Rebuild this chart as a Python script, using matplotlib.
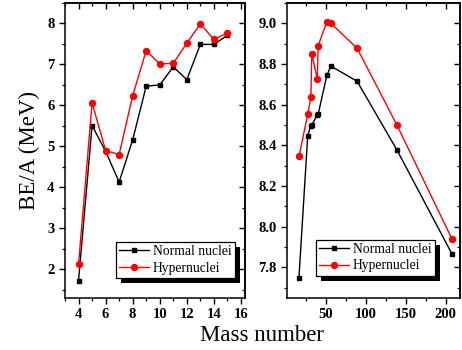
import matplotlib
matplotlib.use("Agg")
import matplotlib.pyplot as plt
from matplotlib.ticker import MultipleLocator, FormatStrFormatter
from matplotlib.patches import Rectangle

# light nuclei (left panel)
mass_light = [4, 5, 6, 7, 8, 9, 10, 11, 12, 13, 14, 15]
be_normal_light = [1.72, 5.51, 4.88, 4.13, 5.16, 6.47, 6.50, 6.94, 6.63, 7.49, 7.49, 7.71]
be_hyper_light = [2.13, 6.06, 4.90, 4.80, 6.24, 7.34, 7.01, 7.03, 7.52, 7.99, 7.61, 7.77]

# heavier nuclei (right panel)
mass_heavy = [16, 27, 31, 32, 39, 40, 51, 56, 89, 139, 208]
be_normal_heavy = [7.75, 8.448, 8.497, 8.50, 8.549, 8.552, 8.744, 8.79, 8.715, 8.377, 7.866]
be_hyper_heavy = [8.346, 8.553, 8.639, 8.851, 8.725, 8.89, 9.008, 9.0, 8.877, 8.499, 7.939]

plt.rcParams['font.family'] = ['Liberation Serif', 'DejaVu Serif']

fig = plt.figure(figsize=(4.62, 3.5), dpi=100)
ax1 = fig.add_axes([65 / 462, 52 / 350, 180 / 462, 295 / 350])
ax2 = fig.add_axes([287 / 462, 52 / 350, 173 / 462, 295 / 350])


def style(ax, xmaj, xmin, ymaj, ymin):
    ax.xaxis.set_major_locator(MultipleLocator(xmaj))
    ax.xaxis.set_minor_locator(MultipleLocator(xmin))
    ax.yaxis.set_major_locator(MultipleLocator(ymaj))
    ax.yaxis.set_minor_locator(MultipleLocator(ymin))
    ax.tick_params(which='major', direction='out', length=4, width=1, labelsize=10.5)
    ax.tick_params(which='minor', direction='out', length=2.2, width=0.9)
    for lab in ax.get_xticklabels() + ax.get_yticklabels():
        lab.set_fontweight('bold')
    for s in ax.spines.values():
        s.set_linewidth(1.1)
    # mirrored ticks pointing inward on top and right
    top = ax.secondary_xaxis('top')
    right = ax.secondary_yaxis('right')
    for sec, axis, maj, mnr in ((top, top.xaxis, xmaj, xmin), (right, right.yaxis, ymaj, ymin)):
        axis.set_major_locator(MultipleLocator(maj))
        axis.set_minor_locator(MultipleLocator(mnr))
        sec.tick_params(which='major', direction='in', length=4, width=1, labelsize=0)
        sec.tick_params(which='minor', direction='in', length=2.2, width=0.9)
        axis.set_ticklabels([])
        for s in sec.spines.values():
            s.set_linewidth(1.1)


def legend(ax, x, y):
    leg = ax.legend(loc='lower left', bbox_to_anchor=(x, y), borderaxespad=0,
                    fancybox=False, framealpha=1, edgecolor='black', fontsize=9.8,
                    handlelength=2.2, handletextpad=0.25, borderpad=0.25,
                    labelspacing=0.25)
    leg.get_frame().set_linewidth(0.9)
    return leg


ax1.plot(mass_light, be_normal_light, '-s', color='black', lw=1, ms=3.5, label='Normal nuclei')
ax1.plot(mass_light, be_hyper_light, '-o', color='red', lw=1, ms=4.3, label='Hypernuclei')
ax1.set_xlim(3, 16.3)
ax1.set_ylim(1.3, 8.5)
style(ax1, 2, 1, 1, 0.5)
ax1.set_ylabel('BE/A (MeV)', fontsize=16.5, labelpad=5)
leg1 = legend(ax1, 0.283, 0.068)

ax2.plot(mass_heavy, be_normal_heavy, '-s', color='black', lw=1, ms=3.5, label='Normal nuclei')
ax2.plot(mass_heavy, be_hyper_heavy, '-o', color='red', lw=1, ms=4.3, label='Hypernuclei')
ax2.set_xlim(1, 218)
ax2.set_ylim(7.65, 9.1)
style(ax2, 50, 25, 0.2, 0.1)
ax2.yaxis.set_major_formatter(FormatStrFormatter('%.1f'))
leg2 = legend(ax2, 0.168, 0.075)

fig.text(0.567, 0.042, 'Mass number', ha='center', va='center', fontsize=16.5)

# solid black drop shadow behind each legend box
fig.canvas.draw()
for ax, leg in ((ax1, leg1), (ax2, leg2)):
    bb = leg.get_frame().get_window_extent()
    ax.add_patch(Rectangle((bb.x0 + 5, bb.y0 - 5), bb.width, bb.height, transform=None,
                           facecolor='black', edgecolor='none', zorder=4.9, clip_on=False))

fig.savefig('out.png', dpi=100)
